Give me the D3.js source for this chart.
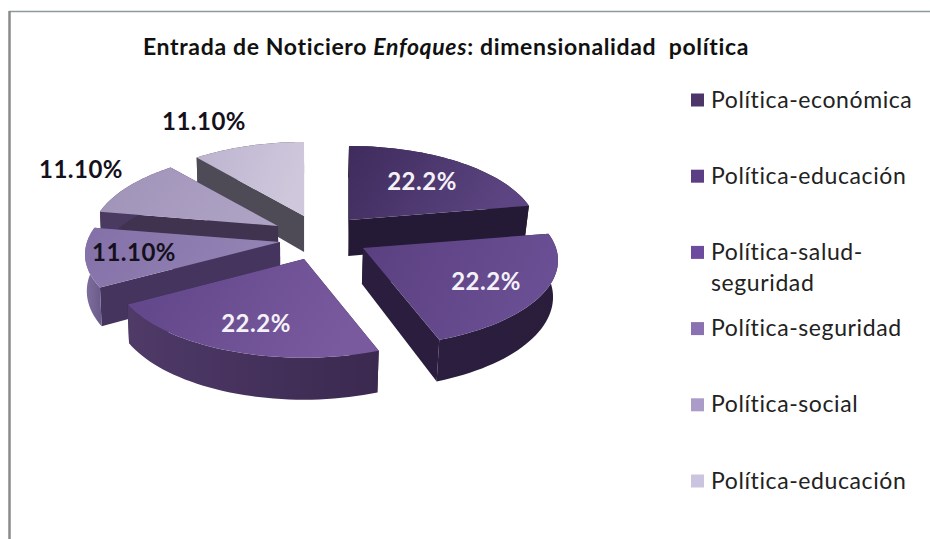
<!DOCTYPE html>
<html><head><meta charset="utf-8">
<script src="https://cdnjs.cloudflare.com/ajax/libs/d3/7.8.5/d3.min.js"></script>
<style>html,body{margin:0;padding:0;background:#fff}svg{display:block}text{font-family:Lato,Carlito,sans-serif}</style>
</head><body><svg id="c" width="930" height="539"></svg>
<script>
const categories=["Política-económica","Política-educación","Política-salud-seguridad","Política-seguridad","Política-social","Política-educación"];
const values=[22.2,22.2,22.2,11.1,11.1,11.1];
const valueLabels=["22.2%","22.2%","22.2%","11.10%","11.10%","11.10%"];
const titleParts=[["Entrada de Noticiero ","normal"],["Enfoques","italic"],[": dimensionalidad  política","normal"]];

// layout and style (separate from the data)
const tips=[[349,220],[363,248],[304,259],[280,242],[278,226],[304,216]];
const xScale=[0.97,1,0.98,1,0.96,0.96];
const labelPos=[[422,182],[486,282],[256,324],[134,253],[81,170],[204,122]];
const labelFill=["#f4f1f7","#f4f1f7","#f4f1f7","#14101c","#14101c","#14101c"];
const legendSwatch=["#4c3569","#5a3f85","#6d4ca0","#8a72b2","#aa9bc8","#cbc4e0"];
const topStops=[["#3f2b5c","#5c4582"],["#5a3f80","#6b4f94"],["#5f4488","#7a5a9e"],["#8370a8","#9484b4"],["#9f92b8","#aea2c4"],["#bcb2cf","#cfc8dc"]];
const radialWall=["#251a36","#2a1d3e","#2a1d3e","#45345e","#3f3350","#4e4a56"];
const arcStops=[["#251a36","#251a36"],["#2b1e3e","#2a1d3c"],["#4f3a68","#3b2950"],["#8070a0","#6a5a8a"],["#4a3a62","#4a3a62"],["#4e4a56","#4e4a56"]];
const drawOrder=[5,0,4,3,1,2];
const A=193,B=84.6,P=0.143,DEPTH=36,CONVERGE_R=0.98,CONVERGE_L=0.992,VANISH_X=310;

const svg=d3.select("#c");
const defs=svg.append("defs");
const gradient=(id,stops,x2,y2)=>{
  const g=defs.append("linearGradient").attr("id",id).attr("x1",0).attr("y1",0).attr("x2",x2).attr("y2",y2);
  g.append("stop").attr("offset",0).attr("stop-color",stops[0]);
  g.append("stop").attr("offset",1).attr("stop-color",stops[1]);
};
svg.append("rect").attr("width",930).attr("height",539).attr("fill","#fff");
svg.append("line").attr("x1",9).attr("x2",930).attr("y1",11.5).attr("y2",11.5).attr("stroke","#8c9a9e").attr("stroke-width",1.5);
svg.append("line").attr("x1",9.5).attr("x2",9.5).attr("y1",11).attr("y2",539).attr("stroke","#8a8a8a").attr("stroke-width",2.5);

const arcs=d3.pie().sort(null).value(d=>d)(values);
const persp=a=>1/(1+P*Math.cos(a));
const drop=(p,s)=>[VANISH_X+(p[0]-VANISH_X)*(p[0]>VANISH_X?CONVERGE_R:CONVERGE_L),p[1]+DEPTH*s];
const pt=(i,a,low)=>{const s=persp(a),t=tips[i];
  const p=[t[0]+A*xScale[i]*Math.sin(a)*s,t[1]-B*Math.cos(a)*s];
  return low?drop(p,s):p;};
const line=d3.line();
const sample=(a0,a1)=>d3.range(0,41).map(k=>a0+(a1-a0)*k/40);
const layer=svg.append("g");
drawOrder.forEach(i=>{
  const d=arcs[i],t=tips[i],tb=drop(t,1);
  [d.startAngle,d.endAngle].forEach(a=>{
    layer.append("path").attr("d",line([t,pt(i,a,false),pt(i,a,true),tb])+"Z").attr("fill",radialWall[i]);
  });
  gradient("arc"+i,arcStops[i],1,0);
  const as=sample(d.startAngle,d.endAngle);
  const arcPts=[...as.map(a=>pt(i,a,false)),...as.slice().reverse().map(a=>pt(i,a,true))];
  layer.append("path").attr("d",line(arcPts)+"Z").attr("fill",`url(#arc${i})`);
  gradient("top"+i,topStops[i],1,0.25);
  layer.append("path").attr("d",line([t,...as.map(a=>pt(i,a,false))])+"Z").attr("fill",`url(#top${i})`);
});

svg.append("g").selectAll("text").data(valueLabels).join("text")
  .attr("x",(_,i)=>labelPos[i][0]).attr("y",(_,i)=>labelPos[i][1]+8)
  .attr("text-anchor","middle").attr("font-size",24).attr("font-weight",700).attr("letter-spacing",0.5)
  .attr("fill",(_,i)=>labelFill[i]).text(d=>d);

const title=svg.append("text").attr("x",143).attr("y",55).attr("font-size",23).attr("font-weight",700).attr("letter-spacing",0.65).attr("fill","#111");
titleParts.forEach(p=>title.append("tspan").attr("font-style",p[1]).style("white-space","pre").text(p[0]));

const legendY=d3.scalePoint().domain(d3.range(categories.length)).range([100,481]);
const leg=svg.append("g").selectAll("g").data(categories).join("g");
leg.append("rect").attr("x",691).attr("y",(_,i)=>legendY(i)-6.5).attr("width",13).attr("height",13).attr("fill",(_,i)=>legendSwatch[i]);
leg.each(function(d,i){
  const parts=d==="Política-salud-seguridad"?["Política-salud-","seguridad"]:[d];
  const tx=d3.select(this).append("text").attr("font-size",23).attr("fill","#222").attr("letter-spacing",0.6);
  parts.forEach((s,k)=>tx.append("tspan").attr("x",711).attr("y",legendY(i)+7.5+k*31).text(s));
});
</script></body></html>
